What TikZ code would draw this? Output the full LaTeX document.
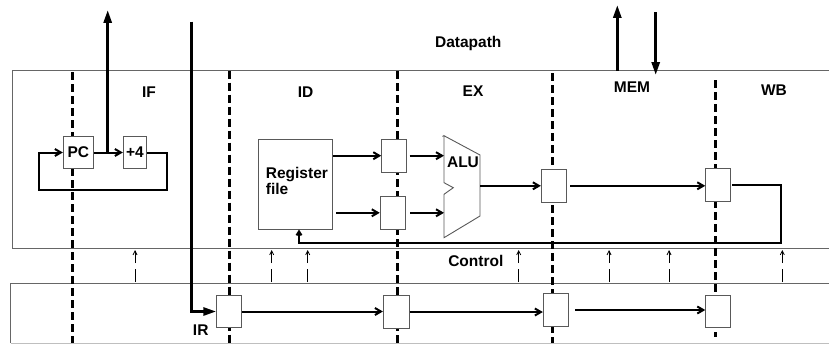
\documentclass[tikz,border=0pt]{standalone}
\usepackage{fontspec}
\setmainfont{Liberation Sans}
\usetikzlibrary{arrows.meta}
\begin{document}
\begin{tikzpicture}[x=1pt,y=-1pt,
  lbl/.style={font=\bfseries\fontsize{15.5}{14}\selectfont, inner sep=0pt, anchor=base},
  regbox/.style={draw=black!65, line width=0.9pt, fill=white, minimum width=25pt, minimum height=32.5pt, inner sep=0pt, font=\bfseries\fontsize{15.5}{14}\selectfont},
  frame/.style={draw=black!60, line width=1pt},
  stage/.style={line width=3pt, dash pattern=on 8pt off 4pt},
  wire/.style={line width=2pt, -{Straight Barb[length=6pt,width=7pt]}},
  plain/.style={line width=2pt},
  bus/.style={line width=2.8pt, -{Triangle[length=13pt,width=8pt]}},
  ctl/.style={line width=0.8pt, dash pattern=on 13pt off 6pt, shorten >=2pt, -{Straight Barb[length=4pt,width=4pt]}},
]
\useasboundingbox (0,0) rectangle (829,345);

% frames
\coordinate (dpTR) at (829,70.7);
\coordinate (dpTL) at (12.7,70.7);
\coordinate (dpBL) at (12.7,248);
\coordinate (dpBR) at (829,248);
\coordinate (ctTR) at (829,283.7);
\coordinate (ctTL) at (10.7,283.7);
\coordinate (ctBL) at (10.7,343);
\coordinate (ctBR) at (829,343);
\draw[frame] (dpTR) -- (dpTL) -- (dpBL) -- (dpBR);
\draw[frame] (ctTR) -- (ctTL) -- (ctBL);
\draw[frame, draw=black!25] (ctBL) -- (ctBR);

% stage separators
\draw[stage] (72.7,72) -- (72.7,343);
\draw[stage] (229.3,70.7) -- (229.3,343);
\draw[stage] (397.7,71) -- (397.7,343);
\draw[stage] (552.7,73) -- (552.7,343);
\draw[stage] (715.7,80) -- (715.7,337);

% labels
\node[lbl] (tdp) at (468.3,47.3) {Datapath};
\node[lbl] (tif) at (149,97) {IF};
\node[lbl] (tid) at (305.5,97) {ID};
\node[lbl] (tex) at (473,96) {EX};
\node[lbl] (tmem) at (632,92.7) {MEM};
\node[lbl] (twb) at (774,95.7) {WB};
\node[lbl] (tctl) at (475.8,266.7) {Control};
\node[lbl] (tir) at (200.7,335) {IR};

% IF stage
\node[regbox, minimum width=30pt, minimum height=31.6pt] (pc) at (78.3,152.5) {PC};
\node[regbox, minimum width=23.4pt, minimum height=31.6pt] (p4) at (135,152.5) {+4};
\coordinate (loopR) at (166.7,190);
\coordinate (loopL) at (39,190);
\coordinate (ifout) at (107.7,10);
\draw[wire] (pc.east) -- (p4.west);
\draw[wire] (p4.east) -| (loopR) -- (loopL) |- (pc.west);
\draw[bus] (ifout |- pc.east) -- (ifout);

% register file
\node[regbox, minimum width=74pt, minimum height=89.7pt] (rf) at (295.3,184.2) {};
\node[lbl, anchor=north west, align=left] (rft) at (265.7,167.5) {Register\\file};

% ID/EX registers
\node[regbox] (up) at (394.2,155.7) {};
\node[regbox] (lo) at (392.7,212.8) {};

% ALU
\coordinate (aluTL) at (444,135.7);
\coordinate (aluTR) at (480,155);
\coordinate (aluBR) at (480,216);
\coordinate (aluBL) at (444,237.7);
\coordinate (aluN1) at (444,182.7);
\coordinate (aluN2) at (453.3,187.7);
\coordinate (aluN3) at (444,194.3);
\draw[draw=black!65, line width=0.9pt, fill=white] (aluTL) -- (aluTR) -- (aluBR) -- (aluBL) -- (aluN3) -- (aluN2) -- (aluN1) -- cycle;
\draw[draw=black!65, line width=0.9pt] (aluTL) -- ++(-1.5pt,-0.8pt);
\node[lbl] (talu) at (463,167.5) {ALU};

% EX/MEM and MEM/WB
\node[regbox, minimum height=33pt] (exmem) at (553.8,185.8) {};
\node[regbox, minimum height=33pt] (memwb) at (718.2,184.5) {};

\draw[wire] (rf.east |- up.west) -- (up.west);
\draw[wire] (rf.east |- lo.west) ++(3.5pt,0) -- (lo.west);
\draw[wire] (up.east) ++(2.5pt,0) -- (up.east -| aluTL);
\draw[wire] (lo.east) ++(4.5pt,0) -- (lo.east -| aluBL);
\draw[wire] (aluTR |- exmem.west) -- (exmem.west);
\draw[wire] (exmem.east) ++(3.5pt,0) -- (memwb.west |- exmem.east);
\coordinate (wbc) at (781,243.3);
\draw[plain, -{Straight Barb[length=4pt,width=5pt]}] (memwb.east) ++(1pt,0) -| (wbc) -| ([xshift=3.7pt]rf.south);

% memory arrows
\coordinate (memA) at (617.3,5);
\coordinate (memB) at (655.7,12.3);
\coordinate (memBend) at (655.7,75);
\draw[bus] (memA |- dpTL) -- (memA);
\draw[bus] (memB) -- (memBend);

% control pipeline
\coordinate (irin) at (191.7,21.7);
\node[regbox, minimum height=31.7pt] (ir) at (229.2,311.5) {};
\node[regbox, minimum width=25.7pt, minimum height=32.6pt] (cid) at (396.2,312) {};
\node[regbox, minimum height=32.7pt] (cex) at (555.8,310) {};
\node[regbox, minimum height=32.3pt] (cwb) at (718.2,311.2) {};
\draw[bus] (irin) |- (ir.west);
\draw[wire] (ir.east) -- (cid.west |- ir.east);
\draw[wire] (cid.east) -- (cex.west |- cid.east);
\draw[wire] (cex.east) ++(6.5pt,0) -- (cwb.west |- cex.east);

% control signals
\foreach \i/\x in {1/135,2/271.7,3/307.7,4/518.7,5/609,6/669,7/782.3}{
  \coordinate (k\i) at (\x,282);
  \draw[ctl] (k\i) -- (k\i |- dpBL);
}
\end{tikzpicture}
\end{document}
